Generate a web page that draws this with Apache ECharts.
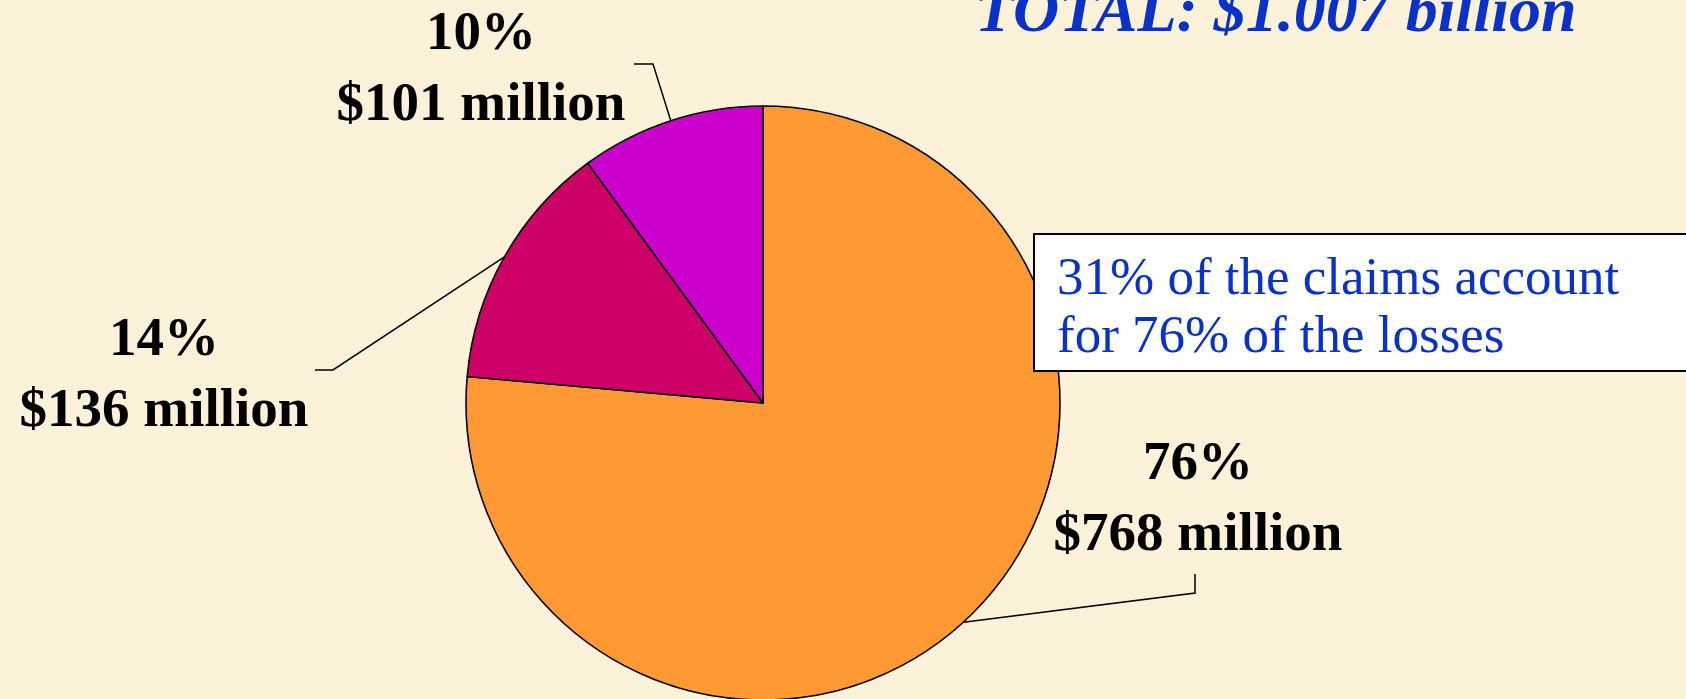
<!DOCTYPE html>
<html>
<head>
<meta charset="utf-8">
<script src="https://cdn.jsdelivr.net/npm/echarts@6/dist/echarts.min.js"></script>
<style>
  html, body { margin: 0; padding: 0; background: #fcf1d9; }
  #chart { width: 1686px; height: 699px; }
</style>
</head>
<body>
<div id="chart"></div>
<script>
// slices, clockwise from 12 o'clock
const sliceNames = ["Largest claims", "Middle claims", "Smallest claims"];
const lossMillions = [768, 136, 101];
const sliceColors = ["#ff9933", "#cc0066", "#cc00cc"];
const titleText = "TOTAL: $1.007 billion";
const noteLines = ["31% of the claims account", "for 76% of the losses"];

// where each label block sits, and the elbow/end of its leader (offsets from label centre)
const labelSpots = [
  { x: 1198, y: 500, elbow: [-3, 93], end: [-3, 74] },
  { x: 164, y: 376, elbow: [169, -6], end: [151, -6] },
  { x: 481, y: 70, elbow: [172, -6], end: [153, -6] },
];

const serif = "'Liberation Serif', 'Times New Roman', serif";
const blue = "#0a32c8";

const chart = echarts.init(document.getElementById("chart"));

let pieData = Array();
lossMillions.forEach(function (v, i) {
  pieData.push({
    name: sliceNames[i],
    value: v,
    itemStyle: { color: sliceColors[i] },
  });
});

const option = {
  backgroundColor: "#fcf1d9",
  animation: false,
  graphic: [
    {
      type: "text",
      left: 975,
      top: -18,
      style: {
        text: titleText,
        font: "italic bold 64px " + serif,
        fill: blue,
      },
    },
    {
      type: "rect",
      shape: { x: 1034, y: 234, width: 700, height: 137 },
      style: { fill: "#ffffff", stroke: "#000000", lineWidth: 2 },
      z: 10,
    },
    {
      type: "text",
      left: 1057,
      top: 251,
      z: 11,
      style: {
        text: noteLines.join("\n"),
        font: "53px " + serif,
        lineHeight: 58,
        fill: blue,
      },
    },
  ],
  series: [
    {
      type: "pie",
      center: [763, 403],
      radius: ["0%", 297],
      startAngle: 90,
      clockwise: true,
      percentPrecision: 0,
      avoidLabelOverlap: false,
      itemStyle: {
        borderColor: "#000000",
        borderWidth: 1.6,
      },
      label: {
        show: true,
        position: "outside",
        formatter: "{d}%\n${c} million",
        fontFamily: serif,
        fontWeight: "bold",
        fontSize: 55,
        lineHeight: 71,
        color: "#000000",
        align: "center",
      },
      labelLine: {
        show: true,
        length: 20,
        length2: 20,
        lineStyle: { color: "#000000", width: 1.5 },
      },
      labelLayout: function (params) {
        const spot = labelSpots[params.dataIndex];
        const start = params.labelLinePoints ? params.labelLinePoints[0] : [spot.x, spot.y];
        return {
          x: spot.x,
          y: spot.y,
          align: "center",
          verticalAlign: "middle",
          labelLinePoints: [
            start,
            [spot.x + spot.elbow[0], spot.y + spot.elbow[1]],
            [spot.x + spot.end[0], spot.y + spot.end[1]],
          ],
        };
      },
      emphasis: { disabled: true },
      data: pieData,
    },
  ],
};

chart.setOption(option);
</script>
</body>
</html>
